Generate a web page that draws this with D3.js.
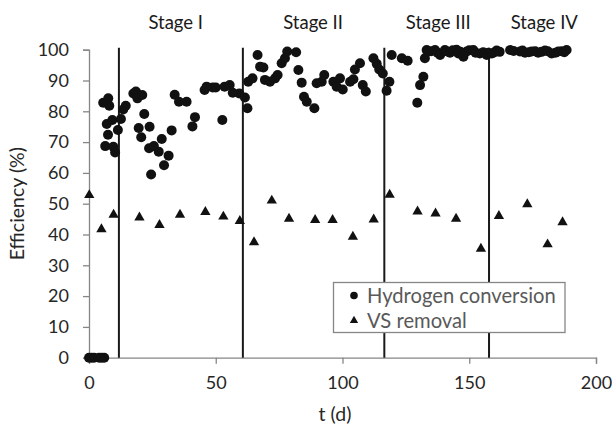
<!DOCTYPE html>
<html>
<head>
<meta charset="utf-8">
<script src="https://cdn.jsdelivr.net/npm/d3@7"></script>
<style>
  html, body { margin: 0; padding: 0; background: #fff; }
  svg { display: block; font-family: Lato, "Open Sans", sans-serif; }
</style>
</head>
<body>
<svg id="chart" width="612" height="432"></svg>
<script>
// Hydrogen conversion efficiency (%) over time t (d)
const hydrogenT = [0, 1, 2, 4, 5, 6,
  5.6, 7.6, 8.0, 7.0, 9.2, 7.5, 6.4, 9.6, 10.3, 11.4,
  12.6, 13.5, 14.5, 17.5, 18.5, 19.1, 21.0, 21.8, 19.6, 20.6, 23.9, 23.7, 25.6, 27.5, 28.7, 24.5, 29.6, 31.4, 32.6,
  33.8, 35.5, 38.5, 41.8, 40.8, 45.6, 46.4, 48.8, 50.0, 52.6, 53.5, 55.5, 56.7, 59.3, 61.5, 62.5, 62.8,
  64.5, 66.5, 67.5, 68.8, 69.4, 71.4, 73.4, 74.4, 76.0, 77.3, 78.2, 81.7, 82.6, 83.9, 84.8, 85.9, 88.9, 89.8,
  91.8, 92.8, 96.4, 97.7, 99.0, 100.1, 103.0, 104.3, 104.9, 106.9, 108.0, 109.2, 112.2, 113.5, 114.5, 115.9,
  117.4, 118.5, 119.4, 123.4, 125.7,
  129.5, 130.6, 131.9, 132.5, 133.2, 133.9, 135.0, 136.5, 137.5, 138.5, 140.4, 141.0, 142.4, 143.5, 145.0, 145.7,
  146.5, 147.7, 149.0, 150.0, 151.6, 152.5, 154.2, 155.5, 156.9, 157.5,
  158.9, 159.8, 160.8, 162.0, 166.1, 167.5, 170.0, 171.0, 172.0, 173.5, 174.6, 176.0, 177.2, 178.5, 179.9, 181.0,
  182.5, 184.0, 185.1, 186.5, 187.5, 188.4];
const hydrogenPct = [0, 0, 0, 0, 0, 0,
  82.8, 84.2, 81.8, 75.9, 77.2, 72.4, 68.7, 68.5, 66.6, 73.9,
  77.5, 80.6, 81.8, 85.8, 86.4, 84.2, 85.3, 79.1, 74.6, 71.6, 75.0, 68.0, 68.7, 66.9, 71.0, 59.5, 62.5, 65.6, 73.8,
  85.4, 83.1, 83.1, 78.1, 75.1, 86.9, 88.0, 87.7, 87.7, 77.2, 88.0, 88.5, 86.0, 85.8, 84.5, 81.0, 89.6,
  90.7, 98.3, 94.5, 94.2, 90.2, 89.6, 90.7, 91.8, 95.6, 97.2, 99.4, 99.2, 93.4, 89.3, 84.7, 83.1, 81.0, 89.1,
  89.6, 91.8, 89.6, 88.0, 90.7, 87.1, 89.6, 90.4, 93.6, 95.6, 88.5, 86.4, 97.2, 95.4, 93.6, 92.3,
  86.7, 89.6, 98.3, 97.2, 96.4,
  82.8, 88.5, 91.2, 97.2, 99.9, 99.4, 99.5, 99.9, 99.0, 98.3, 99.9, 99.5, 99.0, 99.8, 100.0, 98.8,
  99.3, 97.7, 99.4, 99.8, 99.9, 99.0, 98.8, 99.2, 98.3, 99.0,
  98.8, 99.1, 99.7, 99.3, 99.9, 99.6, 99.4, 99.7, 99.0, 99.2, 99.4, 99.5, 99.0, 99.3, 99.7, 99.5,
  98.8, 99.0, 99.4, 99.5, 99.2, 99.9];

// Volatile solids removal efficiency (%)
const vsT = [0.1, 4.9, 9.7, 19.9, 27.8, 35.9, 45.9, 53.0, 59.5, 65.1, 72.1, 78.9, 89.2, 96.1,
  104.1, 112.3, 118.6, 129.6, 136.7, 144.8, 154.6, 161.7, 172.9, 180.9, 186.8];
const vsPct = [52.8, 41.7, 46.4, 45.5, 43.1, 46.4, 47.3, 45.8, 44.4, 37.5, 51.0, 45.1, 44.7, 44.7,
  39.3, 44.9, 52.9, 47.5, 46.8, 45.1, 35.4, 46.0, 49.8, 36.8, 44.0];

// Operating stage boundaries (d) and where each stage name sits
const stageBounds = [11.8, 60.7, 116.5, 157.8];
const stageNames = ["Stage I", "Stage II", "Stage III", "Stage IV"];
const stageLabelT = [34.2, 88.4, 137.8, 179.6];

const xTicks = [0, 50, 100, 150, 200];
const yTicks = [0, 10, 20, 30, 40, 50, 60, 70, 80, 90, 100];
const seriesNames = ["Hydrogen conversion", "VS removal"];

const svg = d3.select("#chart");
const x = d3.scaleLinear().domain([0, 200]).range([89, 596]);
const y = d3.scaleLinear().domain([0, 100]).range([357.7, 49.7]);

const axisColor = "#868686";
const textColor = "#262626";

// axes
const xAxis = svg.append("g")
  .attr("transform", `translate(0,${y(0)})`)
  .call(d3.axisBottom(x).tickValues(xTicks).tickSize(6).tickPadding(13).tickFormat(d3.format("d")));
const yAxis = svg.append("g")
  .attr("transform", `translate(${x(0)},0)`)
  .call(d3.axisLeft(y).tickValues(yTicks).tickSize(6).tickPadding(14).tickFormat(d3.format("d")));
[xAxis, yAxis].forEach(g => {
  g.select(".domain").attr("stroke", axisColor).attr("stroke-width", 1.3);
  g.selectAll(".tick line").attr("stroke", axisColor).attr("stroke-width", 1.3);
  g.selectAll(".tick text").attr("fill", textColor).style("font-size", "18px")
    .style("font-family", "Lato, sans-serif");
});

// stage separators
svg.append("g").selectAll("line").data(stageBounds).join("line")
  .attr("x1", d => x(d)).attr("x2", d => x(d))
  .attr("y1", y(0)).attr("y2", y(100) - 2)
  .attr("stroke", "#1a1a1a").attr("stroke-width", 2);

svg.append("g").selectAll("text").data(stageNames).join("text")
  .attr("x", (d, i) => x(stageLabelT[i])).attr("y", 29)
  .attr("text-anchor", "middle").attr("fill", "#1a1a1a")
  .style("font-size", "18.5px").text(d => d);

// VS removal triangles
const tri = d3.symbol().type(d3.symbolTriangle).size(46);
svg.append("g").selectAll("path").data(vsT).join("path")
  .attr("transform", (d, i) => `translate(${x(d)},${y(vsPct[i])})`)
  .attr("d", tri).attr("fill", "#111");

// Hydrogen conversion circles
svg.append("g").selectAll("circle").data(hydrogenT).join("circle")
  .attr("cx", d => x(d)).attr("cy", (d, i) => y(hydrogenPct[i]))
  .attr("r", 5).attr("fill", "#111");

// legend
const lg = svg.append("g").attr("transform", "translate(333.5,282.5)");
lg.append("rect").attr("width", 231.5).attr("height", 50)
  .attr("fill", "#fff").attr("stroke", axisColor).attr("stroke-width", 1.3);
lg.append("circle").attr("cx", 20.5).attr("cy", 13).attr("r", 3.8).attr("fill", "#111");
lg.append("path").attr("transform", "translate(20.5,38)")
  .attr("d", d3.symbol().type(d3.symbolTriangle).size(30)()).attr("fill", "#111");
lg.selectAll("text.lab").data(seriesNames).join("text").attr("class", "lab")
  .attr("x", 33.5).attr("y", (d, i) => 13 + i * 25).attr("dy", "0.35em")
  .attr("fill", "#595959").style("font-size", "20.2px").text(d => d);

// axis titles
svg.append("text").attr("x", 335).attr("y", 421)
  .attr("text-anchor", "middle").attr("fill", textColor)
  .style("font-size", "19.5px").text("t (d)");
svg.append("text").attr("transform", `translate(24,${y(50)}) rotate(-90)`)
  .attr("text-anchor", "middle").attr("fill", textColor)
  .style("font-size", "19.5px").text("Efficiency (%)");
</script>
</body>
</html>
